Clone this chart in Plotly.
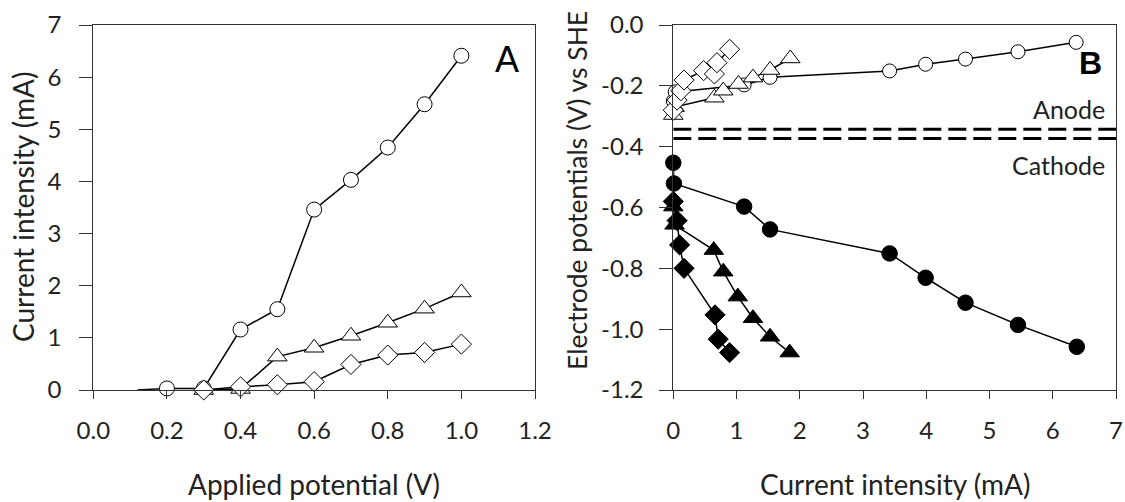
import plotly.graph_objects as go

# ---------------- Panel A data ----------------
applied_V = [0.2, 0.3, 0.4, 0.5, 0.6, 0.7, 0.8, 0.9, 1.0]
circle_I = [0.03, 0.03, 1.16, 1.55, 3.46, 4.03, 4.65, 5.48, 6.41]
circle_lead_V = [0.12, 0.2]
circle_lead_I = [0.0, 0.03]
tri_V = [0.3, 0.4, 0.5, 0.6, 0.7, 0.8, 0.9, 1.0]
tri_I = [0.0, 0.02, 0.64, 0.81, 1.04, 1.29, 1.56, 1.87]
dia_V = [0.3, 0.4, 0.5, 0.6, 0.7, 0.8, 0.9, 1.0]
dia_I = [0.0, 0.06, 0.10, 0.16, 0.49, 0.67, 0.72, 0.88]

# ---------------- Panel B data ----------------
circ_an_I = [0.0, 0.03, 1.12, 1.53, 3.42, 3.99, 4.62, 5.45, 6.37]
circ_an_E = [-0.25, -0.22, -0.197, -0.172, -0.151, -0.129, -0.112, -0.088, -0.057]
circ_ca_I = [0.0, 0.01, 1.12, 1.53, 3.42, 3.99, 4.62, 5.45, 6.38]
circ_ca_E = [-0.453, -0.521, -0.597, -0.672, -0.751, -0.831, -0.913, -0.986, -1.058]
tri_an_I = [0.0, 0.02, 0.65, 0.79, 1.03, 1.26, 1.53, 1.85]
tri_an_E = [-0.296, -0.27, -0.239, -0.216, -0.194, -0.173, -0.148, -0.11]
tri_ca_I = [0.0, 0.02, 0.64, 0.79, 1.02, 1.26, 1.53, 1.84]
tri_ca_E = [-0.597, -0.657, -0.74, -0.811, -0.893, -0.964, -1.025, -1.077]
dia_an_I = [0.0, 0.06, 0.12, 0.17, 0.48, 0.65, 0.69, 0.89]
dia_an_E = [-0.28, -0.247, -0.216, -0.181, -0.15, -0.161, -0.124, -0.08]
dia_ca_I = [0.0, 0.06, 0.10, 0.17, 0.66, 0.71, 0.89]
dia_ca_E = [-0.58, -0.643, -0.723, -0.80, -0.953, -1.033, -1.077]
ref_E = [-0.343, -0.373]
ref_I_span = [0, 7]

xA_ticks = [0.0, 0.2, 0.4, 0.6, 0.8, 1.0, 1.2]
xA_labels = ["0.0", "0.2", "0.4", "0.6", "0.8", "1.0", "1.2"]
yA_ticks = [0, 1, 2, 3, 4, 5, 6, 7]
xB_ticks = [0, 1, 2, 3, 4, 5, 6, 7]
yB_ticks = [0.0, -0.2, -0.4, -0.6, -0.8, -1.0, -1.2]
yB_labels = ["0.0", "-0.2", "-0.4", "-0.6", "-0.8", "-1.0", "-1.2"]

FONT = "Lato"
LW = 1.5
fig = go.Figure()

def add(x, y, symbol, size, fill, xa, ya, mode="lines+markers"):
    fig.add_trace(go.Scatter(
        x=x, y=y, mode=mode, xaxis=xa, yaxis=ya,
        line=dict(color="black", width=LW),
        marker=dict(symbol=symbol, size=size, color=fill,
                    line=dict(color="black", width=1)),
        showlegend=False, hoverinfo="skip", cliponaxis=False))

# Panel A
fig.add_trace(go.Scatter(x=circle_lead_V, y=circle_lead_I, mode="lines",
                         line=dict(color="black", width=LW), showlegend=False,
                         xaxis="x", yaxis="y"))
add(applied_V, circle_I, "circle", 15, "white", "x", "y")
add(tri_V, tri_I, "triangle-up", 17, "white", "x", "y")
add(dia_V, dia_I, "diamond", 15.5, "white", "x", "y")

# Panel B
for e in ref_E:
    fig.add_trace(go.Scatter(x=ref_I_span, y=[e, e], mode="lines", xaxis="x2", yaxis="y2",
                             line=dict(color="black", width=3, dash="18px,7px"),
                             showlegend=False, hoverinfo="skip"))
add(circ_an_I, circ_an_E, "circle", 14, "white", "x2", "y2")
add(circ_ca_I, circ_ca_E, "circle", 15.5, "black", "x2", "y2")
add(tri_an_I, tri_an_E, "triangle-up", 17, "white", "x2", "y2")
add(tri_ca_I, tri_ca_E, "triangle-up", 17, "black", "x2", "y2")
add(dia_an_I, dia_an_E, "diamond", 15.5, "white", "x2", "y2")
add(dia_ca_I, dia_ca_E, "diamond", 15.5, "black", "x2", "y2")

tickfont = dict(family=FONT, size=24, color="#222")
common = dict(showline=True, linecolor="#333", linewidth=1, mirror=True,
              showgrid=False, zeroline=False, ticks="outside", tickcolor="#333",
              tickfont=tickfont, automargin=False)

fig.update_layout(
    width=1125, height=502,
    margin=dict(l=0, r=0, t=25, b=112),
    paper_bgcolor="white", plot_bgcolor="white",
    xaxis=dict(domain=[93.3/1125, 535/1125], range=[0, 1.2], tickvals=xA_ticks,
               ticktext=xA_labels, ticklen=8, ticklabelstandoff=11, anchor="y", **common),
    yaxis=dict(domain=[0, 1], range=[0, 7], tickvals=yA_ticks, ticklen=13,
               ticklabelstandoff=13, anchor="x", **common),
    xaxis2=dict(domain=[673.3/1125, 1116/1125], range=[0, 7], tickvals=xB_ticks,
                ticklen=8, ticklabelstandoff=11, anchor="y2", **common),
    yaxis2=dict(domain=[0, 1], range=[-1.2, 0], tickvals=yB_ticks, ticktext=yB_labels,
                ticklen=13, ticklabelstandoff=11, anchor="x2", **common),
)

title_font = dict(family=FONT, size=28, color="#222")
ann = [
    dict(text="Applied potential (V)", x=314/1125, y=(390-484)/365, xref="paper", yref="paper",
         showarrow=False, font=title_font, xanchor="center", yanchor="middle"),
    dict(text="Current intensity (mA)", x=894.7/1125, y=(390-484)/365, xref="paper", yref="paper",
         showarrow=False, font=title_font, xanchor="center", yanchor="middle"),
    dict(text="Current intensity (mA)", x=23/1125, y=(390-207)/365, xref="paper", yref="paper",
         showarrow=False, font=title_font, textangle=-90, xanchor="center", yanchor="middle"),
    dict(text="Electrode potentials (V) vs SHE", x=577/1125, y=(390-191)/365, xref="paper",
         yref="paper", showarrow=False, font=dict(family=FONT, size=26.5, color="#222"),
         textangle=-90, xanchor="center", yanchor="middle"),
    dict(text="A", x=1.125, y=6.33, xref="x", yref="y", showarrow=False,
         font=dict(family="Liberation Sans", size=36, color="black")),
    dict(text="<b>B</b>", x=6.6, y=-0.125, xref="x2", yref="y2", showarrow=False,
         font=dict(family="Liberation Sans", size=32, color="black")),
    dict(text="Anode", x=6.85, y=-0.276, xref="x2", yref="y2", showarrow=False,
         xanchor="right", yanchor="middle", font=dict(family=FONT, size=25, color="#222")),
    dict(text="Cathode", x=6.85, y=-0.46, xref="x2", yref="y2", showarrow=False,
         xanchor="right", yanchor="middle", font=dict(family=FONT, size=25, color="#222")),
]
fig.update_layout(annotations=ann)

fig.write_html("out.html", config={"displayModeBar": False},
               post_script="document.body.style.margin='0';document.body.style.padding='0';")
